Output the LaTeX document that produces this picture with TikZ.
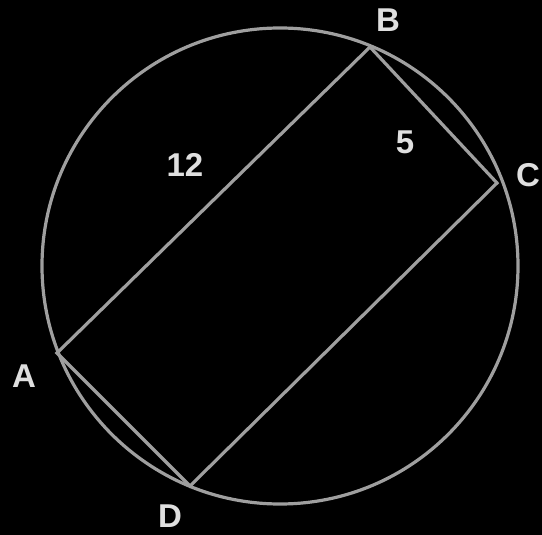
\documentclass[tikz,border=0pt]{standalone}
\usepackage{fontspec}
\setmainfont{Liberation Sans}
\begin{document}
\begin{tikzpicture}[x=1pt,y=-1pt,
  geo/.style={draw=gray!75!white,line width=3.2pt},
  lbl/.style={text=gray!25!white,font=\fontsize{33}{33}\selectfont\bfseries,inner sep=0pt}]
\fill[black] (0,0) rectangle (542,535);
\useasboundingbox (0,0) rectangle (542,535);
\coordinate (O) at (280,266);
\coordinate (A) at (57,353);
\coordinate (B) at (370,47);
\coordinate (C) at (497,183);
\coordinate (D) at (190,486);
\draw[geo] (O) circle[radius=238];
\draw[geo] (A) -- (B) -- (C) -- (D) -- cycle;
\node[lbl] (lA) at (24,376) {A};
\node[lbl] (lB) at (388,20) {B};
\node[lbl] (lC) at (528,175) {C};
\node[lbl] (lD) at (170,516) {D};
\node[lbl] (l12) at (185,165) {12};
\node[lbl] (l5) at (405,142) {5};
\end{tikzpicture}
\end{document}
